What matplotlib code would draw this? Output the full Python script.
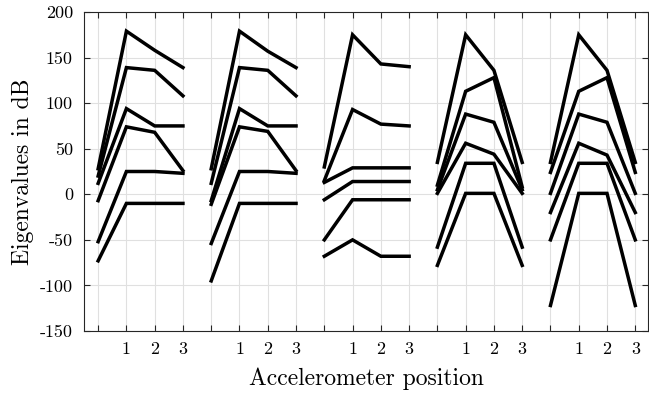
import numpy as np
import matplotlib
matplotlib.use('Agg')
import matplotlib.pyplot as plt

plt.rcParams['font.family'] = 'cmr10'
plt.rcParams['axes.unicode_minus'] = False

# eigenvalues (dB) per configuration, each row one eigenvalue over the 4 points
group1 = [[28, 179, 158, 139],
          [20, 139, 136, 108],
          [12, 94, 75, 75],
          [-7, 74, 68, 26],
          [-52, 25, 25, 23],
          [-73, -10, -10, -10]]
group2 = [[28, 179, 157, 139],
          [12, 139, 136, 108],
          [-7, 94, 75, 75],
          [-11, 74, 69, 26],
          [-54, 25, 25, 23],
          [-95, -10, -10, -10]]
group3 = [[30, 175, 143, 140],
          [15, 93, 77, 75],
          [13, 29, 29, 29],
          [-6, 14, 14, 14],
          [-50, -6, -6, -6],
          [-68, -50, -68, -68]]
group4 = [[35, 175, 136, 35],
          [10, 113, 128, 8],
          [5, 88, 79, 5],
          [1, 56, 44, 1],
          [-58, 34, 34, -58],
          [-78, 1, 1, -78]]
group5 = [[35, 175, 136, 35],
          [24, 113, 128, 24],
          [1, 88, 79, 1],
          [-20, 56, 43, -20],
          [-50, 34, 34, -50],
          [-122, 1, 1, -122]]
groups = [group1, group2, group3, group4, group5]

pos_labels = ['', '1', '2', '3']
yticks = [200, 150, 100, 50, 0, -50, -100, -150]

fig = plt.figure(figsize=(6.49, 3.96), dpi=100)
ax = fig.add_axes([84 / 649, 65 / 396, 564 / 649, 319 / 396])

for g, data in enumerate(groups):
    x = np.arange(4) + 4 * g + 1
    for row in data:
        ax.plot(x, row, color='black', lw=2.5, solid_joinstyle='miter')

ax.set_xlim(0.5, 20.45)
ax.set_ylim(-150, 200)
ax.set_xticks(np.arange(1, 21))
ax.set_xticklabels(pos_labels * len(groups))
ax.set_yticks(yticks)
ax.set_yticklabels([str(v) for v in yticks])
ax.grid(True, color='#e0e0e0', lw=0.8)
ax.set_axisbelow(True)
ax.tick_params(direction='in', top=True, right=True, length=4, width=0.8,
               labelsize=13, color='#262626', pad=8)
for s in ax.spines.values():
    s.set_color('#262626')
    s.set_linewidth(0.8)

ax.set_xlabel('Accelerometer position', fontsize=17, labelpad=7)
ax.set_ylabel('Eigenvalues in dB', fontsize=17, labelpad=4)

fig.savefig('out.png', dpi=100)
